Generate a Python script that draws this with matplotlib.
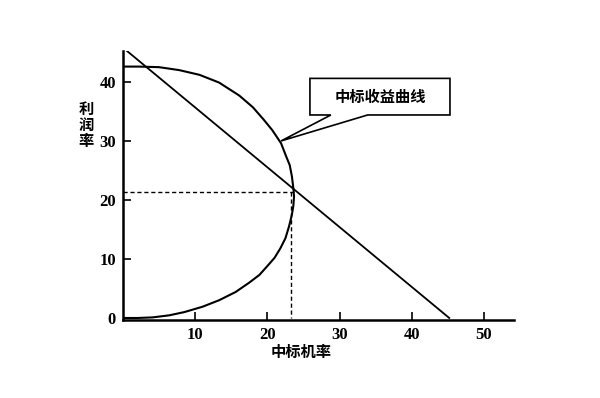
import matplotlib
matplotlib.use("Agg")
import matplotlib.pyplot as plt
from matplotlib.patches import Polygon

# values
curve_x = [0, 2.2, 5.0, 7.8, 10.6, 13.3, 16.1, 18.0, 19.5, 20.7,
           21.9, 22.6, 23.1, 23.4, 23.6, 23.7, 23.6, 23.4, 23.0, 22.5,
           21.8, 21.0, 20.0, 18.9, 17.5, 15.6, 13.3, 11.0, 8.5, 6.4,
           4.1, 2.0, 0]
curve_y = [42.6, 42.6, 42.5, 42.0, 41.2, 39.9, 37.7, 35.7, 33.6, 31.8,
           29.6, 27.4, 25.9, 24.0, 22.0, 20.6, 19.0, 17.5, 15.5,
           13.5, 11.8, 10.2, 8.8, 7.3, 6.0, 4.4, 3.0, 1.9, 1.0, 0.45,
           0.1, 0, 0]
line_x = [0.5, 45.2]
line_y = [45.3, 0]
cross_x = 23.3
cross_y = 21.3
x_ticks = [10, 20, 30, 40, 50]
y_ticks = [0, 10, 20, 30, 40]
curve_label = "中标收益曲线"
x_label = "中标机率"
y_label = "利\n润\n率"

plt.rcParams['font.family'] = ['Liberation Serif', 'Noto Sans CJK SC']
cjk = ['Noto Sans CJK SC', 'DejaVu Sans']

fig = plt.figure(figsize=(6, 3.98), dpi=100)
ax = fig.add_axes([0.205, 0.196, 0.652, 0.676])

ax.plot(curve_x, curve_y, color='black', linewidth=1.5)
ax.plot(line_x, line_y, color='black', linewidth=1.3)
ax.plot([0, cross_x + 0.4], [cross_y, cross_y], color='black',
        linewidth=1.0, linestyle=(0, (3, 2)))
ax.plot([cross_x, cross_x], [cross_y, 0], color='black',
        linewidth=1.0, linestyle=(0, (3, 2)))

# speech-bubble callout
bubble = [(25.9, 40.6), (45.3, 40.6), (45.3, 34.4), (33.9, 34.4),
          (21.9, 30.0), (28.8, 34.4), (25.9, 34.4)]
ax.add_patch(Polygon(bubble, closed=True, facecolor='white',
                     edgecolor='black', linewidth=1.2, zorder=5))
ax.text(35.6, 37.5, curve_label, family=cjk, fontsize=11, weight='bold',
        ha='center', va='center', zorder=6)

ax.set_xlim(0, 54.2)
ax.set_ylim(-0.34, 45.25)
ax.set_xticks(x_ticks)
ax.set_yticks(y_ticks)
ax.tick_params(direction='in', length=6, width=1.2, labelsize=12, pad=5)
for lab in ax.get_xticklabels() + ax.get_yticklabels():
    lab.set_fontweight('bold')

for s in ['top', 'right']:
    ax.spines[s].set_visible(False)
for s in ['left', 'bottom']:
    ax.spines[s].set_linewidth(1.8)

fig.text(301 / 600, 1 - 352 / 398, x_label, family=cjk, fontsize=11,
         weight='bold', ha='center', va='center')
fig.text(86 / 600, 1 - 125 / 398, y_label, family=cjk, fontsize=11,
         weight='bold', ha='center', va='center', linespacing=1.0)

fig.savefig('out.png', dpi=100)
